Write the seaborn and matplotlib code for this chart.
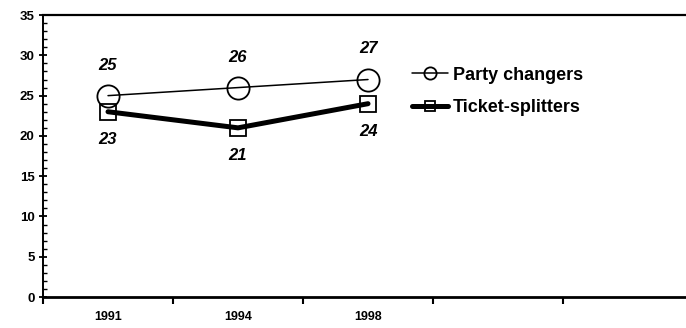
"""
Party changers vs ticket-splitters, 1991-1998.
"""

import pandas as pd
import seaborn as sns
import matplotlib.pyplot as plt
from matplotlib.ticker import MultipleLocator

sns.set_theme(style="white")
plt.rcParams['font.family'] = ['Liberation Sans', 'DejaVu Sans']
plt.rcParams['text.color'] = "black"
plt.rcParams['xtick.color'] = "black"
plt.rcParams['ytick.color'] = "black"

# data
years = ["1991", "1994", "1998"]
party_changers = [25, 26, 27]
ticket_splitters = [23, 21, 24]


def main():
    data = pd.DataFrame({"pos": range(len(years)),
                         "Year": years,
                         "Party changers": party_changers,
                         "Ticket-splitters": ticket_splitters})

    fig = plt.figure(figsize=(6.86, 3.28), dpi=100)
    ax = fig.add_axes([0.0627, 0.0945, 0.9373, 0.8595])

    sns.lineplot(x="pos", y="Party changers", data=data, ax=ax,
                 color="black", linewidth=1.1, marker="o", markersize=16,
                 markerfacecolor="none", markeredgecolor="black",
                 markeredgewidth=1.3, label="Party changers")
    sns.lineplot(x="pos", y="Ticket-splitters", data=data, ax=ax,
                 color="black", linewidth=3.6, marker="s", markersize=12,
                 markerfacecolor="none", markeredgecolor="black",
                 markeredgewidth=1.3, label="Ticket-splitters")

    # value labels
    for i, v in enumerate(party_changers):
        ax.annotate(str(v), (i, v), xytext=(0, 22), textcoords="offset points",
                    ha="center", va="center", fontsize=12, color="black",
                    fontweight="bold", fontstyle="italic")
    for i, v in enumerate(ticket_splitters):
        ax.annotate(str(v), (i, v), xytext=(0, -20),
                    textcoords="offset points", ha="center", va="center",
                    fontsize=12, color="black", fontweight="bold",
                    fontstyle="italic")

    # axes setup
    ax.set_xlim(-0.5, 4.446)
    ax.set_ylim(0, 35)
    ax.set_xlabel("")
    ax.set_ylabel("")

    # labels sit in the middle of each category, ticks on the boundaries
    ax.set_xticks(range(len(years)))
    ax.set_xticklabels(years, fontsize=9, fontweight="bold")
    ax.set_xticks([-0.5, 0.5, 1.5, 2.5, 3.5], minor=True)
    ax.tick_params(axis="x", which="major", length=0, pad=10)
    ax.tick_params(axis="x", which="minor", length=5, width=1.5,
                   direction="out", bottom=True)

    ax.yaxis.set_major_locator(MultipleLocator(5))
    ax.yaxis.set_minor_locator(MultipleLocator(1))
    ax.tick_params(axis="y", which="major", length=6, width=1.3,
                   direction="inout", left=True, labelsize=9.5, pad=3)
    ax.tick_params(axis="y", which="minor", length=3, width=1,
                   direction="in", left=True)
    for lab in ax.get_yticklabels():
        lab.set_fontweight("bold")

    ax.spines["right"].set_visible(False)
    ax.spines["top"].set_linewidth(1.6)
    ax.spines["left"].set_linewidth(1.4)
    ax.spines["bottom"].set_linewidth(2.0)
    for side in ["top", "left", "bottom"]:
        ax.spines[side].set_color("black")

    leg = ax.legend(loc="upper left", bbox_to_anchor=(0.548, 0.875),
                    frameon=False, fontsize=13, handlelength=2.0,
                    handletextpad=0.3, labelspacing=0.85, markerscale=0.55)
    for text in leg.get_texts():
        text.set_fontweight("bold")
        text.set_color("black")

    plt.savefig("out.png", dpi=100)
    plt.clf()


if __name__ == '__main__':
    main()
